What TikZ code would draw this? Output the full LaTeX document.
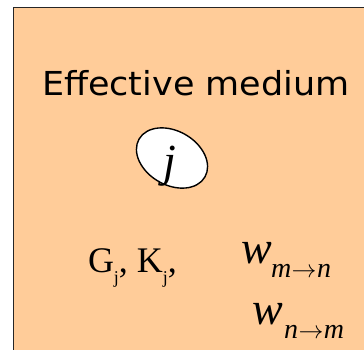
\documentclass[tikz,border=0pt]{standalone}
\usepackage{fontspec}
\setmainfont{Liberation Serif}
\newfontfamily\titlefont[FakeStretch=1.06]{DejaVu Sans}
\usetikzlibrary{shapes.geometric}
\definecolor{peach}{HTML}{FFCC99}
\tikzset{
  lbl/.style={inner sep=0pt, outer sep=0pt, anchor=base west},
  bigw/.style={lbl, font=\fontsize{46}{46}\selectfont\itshape},
  subs/.style={lbl, font=\fontsize{28}{28}\selectfont},
}
\newcommand{\arr}{\kern0.5pt\ensuremath{\rightarrow}\kern0.5pt}
\newcommand{\subj}{\raisebox{-11pt}{\fontsize{18}{18}\selectfont j}}
\begin{document}
\begin{tikzpicture}[x=1pt,y=1pt]
\useasboundingbox (0,0) rectangle (364,349);
\fill[white] (0,0) rectangle (364,349);
\fill[peach] (13.5,-10) rectangle (380,341.5);
\draw[line width=1.6pt, draw=black!85] (13.5,-10) -- (13.5,341.5) -- (380,341.5);
\node[lbl, font=\titlefont\fontsize{33}{33}\selectfont] (title) at (42,254) {Effective medium};
\node[ellipse, draw, fill=white, line width=1.4pt, minimum width=76pt, minimum height=54pt, rotate=-30, inner sep=0pt] (ell) at (172,191) {};
\node[inner sep=0pt, anchor=base, font=\fontsize{46}{46}\selectfont\itshape] (j) at (170,173) {j};
\node[lbl, font=\fontsize{36}{36}\selectfont] (gk) at (88,77) {G\subj, K\subj,};
\node[bigw] (w1) at (241,86) {w};
\node[subs] (s1) at (271,72) {\itshape m\arr n};
\node[bigw] (w2) at (252,25) {w};
\node[subs] (s2) at (284,11) {\itshape n\arr m};
\end{tikzpicture}
\end{document}
